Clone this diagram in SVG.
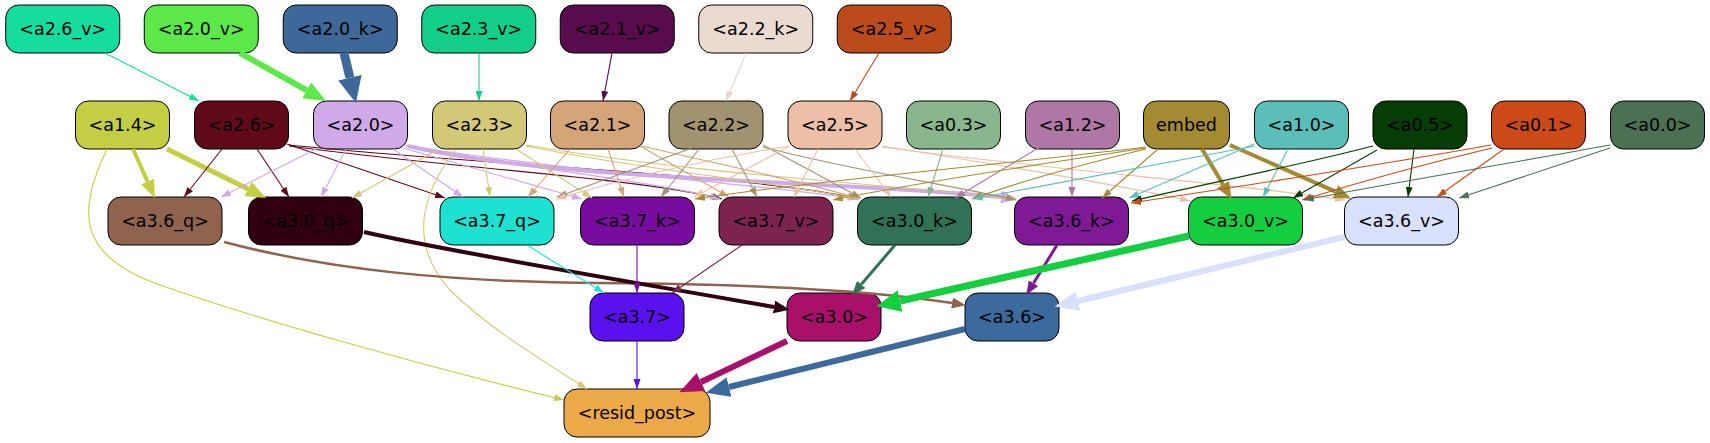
<svg xmlns="http://www.w3.org/2000/svg" width="1710" height="443" viewBox="0 0 1710 443">
<style>
.n rect{stroke:#000;stroke-width:1}
.n text{font-family:"DejaVu Sans","Liberation Sans",sans-serif;font-size:17.5px;text-anchor:middle;fill:#000}
#edges path{fill:none;stroke-width:1.1}
</style>
<defs>
<marker id="t1" viewBox="0 0 10 10" refX="10" refY="5" markerWidth="10" markerHeight="7" orient="auto" markerUnits="userSpaceOnUse" preserveAspectRatio="none"><path d="M0,0L10,5L0,10z" fill="#15DDA0"/></marker>
<marker id="t2" viewBox="0 0 10 10" refX="10" refY="5" markerWidth="10" markerHeight="7" orient="auto" markerUnits="userSpaceOnUse" preserveAspectRatio="none"><path d="M0,0L10,5L0,10z" fill="#13CE88"/></marker>
<marker id="t3" viewBox="0 0 10 10" refX="10" refY="5" markerWidth="10" markerHeight="7" orient="auto" markerUnits="userSpaceOnUse" preserveAspectRatio="none"><path d="M0,0L10,5L0,10z" fill="#580C4E"/></marker>
<marker id="t4" viewBox="0 0 10 10" refX="10" refY="5" markerWidth="10" markerHeight="7" orient="auto" markerUnits="userSpaceOnUse" preserveAspectRatio="none"><path d="M0,0L10,5L0,10z" fill="#E8D6CB"/></marker>
<marker id="t5" viewBox="0 0 10 10" refX="10" refY="5" markerWidth="10" markerHeight="7" orient="auto" markerUnits="userSpaceOnUse" preserveAspectRatio="none"><path d="M0,0L10,5L0,10z" fill="#BC4B1B"/></marker>
<marker id="t6" viewBox="0 0 10 10" refX="10" refY="5" markerWidth="10" markerHeight="7" orient="auto" markerUnits="userSpaceOnUse" preserveAspectRatio="none"><path d="M0,0L10,5L0,10z" fill="#C3CE44"/></marker>
<marker id="t7" viewBox="0 0 10 10" refX="10" refY="5" markerWidth="10" markerHeight="7" orient="auto" markerUnits="userSpaceOnUse" preserveAspectRatio="none"><path d="M0,0L10,5L0,10z" fill="#600A19"/></marker>
<marker id="t8" viewBox="0 0 10 10" refX="10" refY="5" markerWidth="10" markerHeight="7" orient="auto" markerUnits="userSpaceOnUse" preserveAspectRatio="none"><path d="M0,0L10,5L0,10z" fill="#D0A9E8"/></marker>
<marker id="t9" viewBox="0 0 10 10" refX="10" refY="5" markerWidth="10" markerHeight="7" orient="auto" markerUnits="userSpaceOnUse" preserveAspectRatio="none"><path d="M0,0L10,5L0,10z" fill="#D3C878"/></marker>
<marker id="t10" viewBox="0 0 10 10" refX="10" refY="5" markerWidth="10" markerHeight="7" orient="auto" markerUnits="userSpaceOnUse" preserveAspectRatio="none"><path d="M0,0L10,5L0,10z" fill="#D3A578"/></marker>
<marker id="t11" viewBox="0 0 10 10" refX="10" refY="5" markerWidth="10" markerHeight="7" orient="auto" markerUnits="userSpaceOnUse" preserveAspectRatio="none"><path d="M0,0L10,5L0,10z" fill="#A29370"/></marker>
<marker id="t12" viewBox="0 0 10 10" refX="10" refY="5" markerWidth="10" markerHeight="7" orient="auto" markerUnits="userSpaceOnUse" preserveAspectRatio="none"><path d="M0,0L10,5L0,10z" fill="#EDBFA7"/></marker>
<marker id="t13" viewBox="0 0 10 10" refX="10" refY="5" markerWidth="10" markerHeight="7" orient="auto" markerUnits="userSpaceOnUse" preserveAspectRatio="none"><path d="M0,0L10,5L0,10z" fill="#8AB68E"/></marker>
<marker id="t14" viewBox="0 0 10 10" refX="10" refY="5" markerWidth="10" markerHeight="7" orient="auto" markerUnits="userSpaceOnUse" preserveAspectRatio="none"><path d="M0,0L10,5L0,10z" fill="#AE77A4"/></marker>
<marker id="t15" viewBox="0 0 10 10" refX="10" refY="5" markerWidth="10" markerHeight="7" orient="auto" markerUnits="userSpaceOnUse" preserveAspectRatio="none"><path d="M0,0L10,5L0,10z" fill="#A38A33"/></marker>
<marker id="t16" viewBox="0 0 10 10" refX="10" refY="5" markerWidth="10" markerHeight="7" orient="auto" markerUnits="userSpaceOnUse" preserveAspectRatio="none"><path d="M0,0L10,5L0,10z" fill="#5BBEB9"/></marker>
<marker id="t17" viewBox="0 0 10 10" refX="10" refY="5" markerWidth="10" markerHeight="7" orient="auto" markerUnits="userSpaceOnUse" preserveAspectRatio="none"><path d="M0,0L10,5L0,10z" fill="#063D05"/></marker>
<marker id="t18" viewBox="0 0 10 10" refX="10" refY="5" markerWidth="10" markerHeight="7" orient="auto" markerUnits="userSpaceOnUse" preserveAspectRatio="none"><path d="M0,0L10,5L0,10z" fill="#CB4A17"/></marker>
<marker id="t19" viewBox="0 0 10 10" refX="10" refY="5" markerWidth="10" markerHeight="7" orient="auto" markerUnits="userSpaceOnUse" preserveAspectRatio="none"><path d="M0,0L10,5L0,10z" fill="#4B7054"/></marker>
<marker id="t20" viewBox="0 0 10 10" refX="10" refY="5" markerWidth="10" markerHeight="7" orient="auto" markerUnits="userSpaceOnUse" preserveAspectRatio="none"><path d="M0,0L10,5L0,10z" fill="#1DE2D1"/></marker>
<marker id="t21" viewBox="0 0 10 10" refX="10" refY="5" markerWidth="10" markerHeight="7" orient="auto" markerUnits="userSpaceOnUse" preserveAspectRatio="none"><path d="M0,0L10,5L0,10z" fill="#770C9E"/></marker>
<marker id="t22" viewBox="0 0 10 10" refX="10" refY="5" markerWidth="10" markerHeight="7" orient="auto" markerUnits="userSpaceOnUse" preserveAspectRatio="none"><path d="M0,0L10,5L0,10z" fill="#7D234F"/></marker>
<marker id="t23" viewBox="0 0 10 10" refX="10" refY="5" markerWidth="10" markerHeight="7" orient="auto" markerUnits="userSpaceOnUse" preserveAspectRatio="none"><path d="M0,0L10,5L0,10z" fill="#5B10EE"/></marker>
<marker id="k1" viewBox="0 0 10 10" refX="0" refY="5" markerWidth="22" markerHeight="18" orient="auto" markerUnits="userSpaceOnUse" preserveAspectRatio="none"><path d="M0,0L10,5L0,10z" fill="#5DE84A"/></marker>
<marker id="k2" viewBox="0 0 10 10" refX="0" refY="5" markerWidth="26" markerHeight="24" orient="auto" markerUnits="userSpaceOnUse" preserveAspectRatio="none"><path d="M0,0L10,5L0,10z" fill="#3D6898"/></marker>
<marker id="k3" viewBox="0 0 10 10" refX="0" refY="5" markerWidth="18" markerHeight="14" orient="auto" markerUnits="userSpaceOnUse" preserveAspectRatio="none"><path d="M0,0L10,5L0,10z" fill="#C3CE44"/></marker>
<marker id="k4" viewBox="0 0 10 10" refX="0" refY="5" markerWidth="20" markerHeight="16" orient="auto" markerUnits="userSpaceOnUse" preserveAspectRatio="none"><path d="M0,0L10,5L0,10z" fill="#C3CE44"/></marker>
<marker id="k5" viewBox="0 0 10 10" refX="0" refY="5" markerWidth="16" markerHeight="13" orient="auto" markerUnits="userSpaceOnUse" preserveAspectRatio="none"><path d="M0,0L10,5L0,10z" fill="#D0A9E8"/></marker>
<marker id="k6" viewBox="0 0 10 10" refX="0" refY="5" markerWidth="17" markerHeight="14" orient="auto" markerUnits="userSpaceOnUse" preserveAspectRatio="none"><path d="M0,0L10,5L0,10z" fill="#A38A33"/></marker>
<marker id="k7" viewBox="0 0 10 10" refX="0" refY="5" markerWidth="14" markerHeight="11" orient="auto" markerUnits="userSpaceOnUse" preserveAspectRatio="none"><path d="M0,0L10,5L0,10z" fill="#8F634E"/></marker>
<marker id="k8" viewBox="0 0 10 10" refX="0" refY="5" markerWidth="16" markerHeight="13" orient="auto" markerUnits="userSpaceOnUse" preserveAspectRatio="none"><path d="M0,0L10,5L0,10z" fill="#300010"/></marker>
<marker id="k9" viewBox="0 0 10 10" refX="0" refY="5" markerWidth="14" markerHeight="11" orient="auto" markerUnits="userSpaceOnUse" preserveAspectRatio="none"><path d="M0,0L10,5L0,10z" fill="#317156"/></marker>
<marker id="k10" viewBox="0 0 10 10" refX="0" refY="5" markerWidth="14" markerHeight="11" orient="auto" markerUnits="userSpaceOnUse" preserveAspectRatio="none"><path d="M0,0L10,5L0,10z" fill="#7E1A95"/></marker>
<marker id="k11" viewBox="0 0 10 10" refX="0" refY="5" markerWidth="24" markerHeight="22" orient="auto" markerUnits="userSpaceOnUse" preserveAspectRatio="none"><path d="M0,0L10,5L0,10z" fill="#14CE40"/></marker>
<marker id="k12" viewBox="0 0 10 10" refX="0" refY="5" markerWidth="24" markerHeight="20" orient="auto" markerUnits="userSpaceOnUse" preserveAspectRatio="none"><path d="M0,0L10,5L0,10z" fill="#D8E0FC"/></marker>
<marker id="k13" viewBox="0 0 10 10" refX="0" refY="5" markerWidth="24" markerHeight="20" orient="auto" markerUnits="userSpaceOnUse" preserveAspectRatio="none"><path d="M0,0L10,5L0,10z" fill="#A8106A"/></marker>
<marker id="k14" viewBox="0 0 10 10" refX="0" refY="5" markerWidth="24" markerHeight="20" orient="auto" markerUnits="userSpaceOnUse" preserveAspectRatio="none"><path d="M0,0L10,5L0,10z" fill="#3D6A9D"/></marker>
</defs>
<rect width="1710" height="443" fill="#fff"/>
<g id="nodes">
<g id="n-a2_6_v" class="n"><rect x="5.75" y="5" width="114" height="48" rx="13" fill="#15DDA0"/><text x="62.75" y="35">&lt;a2.6_v&gt;</text></g>
<g id="n-a2_0_v" class="n"><rect x="144.25" y="5" width="114" height="48" rx="13" fill="#5DE84A"/><text x="201.25" y="35">&lt;a2.0_v&gt;</text></g>
<g id="n-a2_0_k" class="n"><rect x="283.25" y="5" width="114" height="48" rx="13" fill="#3D6898"/><text x="340.25" y="35">&lt;a2.0_k&gt;</text></g>
<g id="n-a2_3_v" class="n"><rect x="421.75" y="5" width="114" height="48" rx="13" fill="#13CE88"/><text x="478.75" y="35">&lt;a2.3_v&gt;</text></g>
<g id="n-a2_1_v" class="n"><rect x="560.25" y="5" width="114" height="48" rx="13" fill="#580C4E"/><text x="617.25" y="35">&lt;a2.1_v&gt;</text></g>
<g id="n-a2_2_k" class="n"><rect x="698.75" y="5" width="114" height="48" rx="13" fill="#EBDAD0"/><text x="755.75" y="35">&lt;a2.2_k&gt;</text></g>
<g id="n-a2_5_v" class="n"><rect x="837.25" y="5" width="114" height="48" rx="13" fill="#BC4B1B"/><text x="894.25" y="35">&lt;a2.5_v&gt;</text></g>
<g id="n-a1_4" class="n"><rect x="75.5" y="101" width="94" height="48" rx="13" fill="#C3CE44"/><text x="122.5" y="131">&lt;a1.4&gt;</text></g>
<g id="n-a2_6" class="n"><rect x="194.5" y="101" width="94" height="48" rx="13" fill="#600A19"/><text x="241.5" y="131">&lt;a2.6&gt;</text></g>
<g id="n-a2_0" class="n"><rect x="313.5" y="101" width="94" height="48" rx="13" fill="#D0A9E8"/><text x="360.5" y="131">&lt;a2.0&gt;</text></g>
<g id="n-a2_3" class="n"><rect x="432.5" y="101" width="94" height="48" rx="13" fill="#D3C878"/><text x="479.5" y="131">&lt;a2.3&gt;</text></g>
<g id="n-a2_1" class="n"><rect x="550.5" y="101" width="94" height="48" rx="13" fill="#D3A578"/><text x="597.5" y="131">&lt;a2.1&gt;</text></g>
<g id="n-a2_2" class="n"><rect x="669" y="101" width="94" height="48" rx="13" fill="#A29370"/><text x="716" y="131">&lt;a2.2&gt;</text></g>
<g id="n-a2_5" class="n"><rect x="788" y="101" width="94" height="48" rx="13" fill="#EDBFA7"/><text x="835" y="131">&lt;a2.5&gt;</text></g>
<g id="n-a0_3" class="n"><rect x="906.5" y="101" width="94" height="48" rx="13" fill="#8AB68E"/><text x="953.5" y="131">&lt;a0.3&gt;</text></g>
<g id="n-a1_2" class="n"><rect x="1025.5" y="101" width="94" height="48" rx="13" fill="#AE77A4"/><text x="1072.5" y="131">&lt;a1.2&gt;</text></g>
<g id="n-embed" class="n"><rect x="1143.5" y="101" width="86" height="48" rx="13" fill="#A38A33"/><text x="1186.5" y="131">embed</text></g>
<g id="n-a1_0" class="n"><rect x="1254.5" y="101" width="94" height="48" rx="13" fill="#5BBEB9"/><text x="1301.5" y="131">&lt;a1.0&gt;</text></g>
<g id="n-a0_5" class="n"><rect x="1373" y="101" width="94" height="48" rx="13" fill="#063D05"/><text x="1420" y="131">&lt;a0.5&gt;</text></g>
<g id="n-a0_1" class="n"><rect x="1491.5" y="101" width="94" height="48" rx="13" fill="#CB4A17"/><text x="1538.5" y="131">&lt;a0.1&gt;</text></g>
<g id="n-a0_0" class="n"><rect x="1610.5" y="101" width="94" height="48" rx="13" fill="#4B7054"/><text x="1657.5" y="131">&lt;a0.0&gt;</text></g>
<g id="n-a3_6_q" class="n"><rect x="108" y="197" width="114" height="48" rx="13" fill="#8F634E"/><text x="165" y="227">&lt;a3.6_q&gt;</text></g>
<g id="n-a3_0_q" class="n"><rect x="248.5" y="197" width="114" height="48" rx="13" fill="#300010"/><text x="305.5" y="227">&lt;a3.0_q&gt;</text></g>
<g id="n-a3_7_q" class="n"><rect x="440" y="197" width="114" height="48" rx="13" fill="#1DE2D1"/><text x="497" y="227">&lt;a3.7_q&gt;</text></g>
<g id="n-a3_7_k" class="n"><rect x="580.5" y="197" width="114" height="48" rx="13" fill="#770C9E"/><text x="637.5" y="227">&lt;a3.7_k&gt;</text></g>
<g id="n-a3_7_v" class="n"><rect x="719" y="197" width="114" height="48" rx="13" fill="#7D234F"/><text x="776" y="227">&lt;a3.7_v&gt;</text></g>
<g id="n-a3_0_k" class="n"><rect x="857.5" y="197" width="114" height="48" rx="13" fill="#317156"/><text x="914.5" y="227">&lt;a3.0_k&gt;</text></g>
<g id="n-a3_6_k" class="n"><rect x="1014.5" y="197" width="114" height="48" rx="13" fill="#7E1A95"/><text x="1071.5" y="227">&lt;a3.6_k&gt;</text></g>
<g id="n-a3_0_v" class="n"><rect x="1188.5" y="197" width="114" height="48" rx="13" fill="#14CE40"/><text x="1245.5" y="227">&lt;a3.0_v&gt;</text></g>
<g id="n-a3_6_v" class="n"><rect x="1344.5" y="197" width="114" height="48" rx="13" fill="#D8E0FC"/><text x="1401.5" y="227">&lt;a3.6_v&gt;</text></g>
<g id="n-a3_7" class="n"><rect x="590" y="293" width="94" height="48" rx="13" fill="#5B10EE"/><text x="637" y="323">&lt;a3.7&gt;</text></g>
<g id="n-a3_0" class="n"><rect x="787" y="293" width="94" height="48" rx="13" fill="#A8106A"/><text x="834" y="323">&lt;a3.0&gt;</text></g>
<g id="n-a3_6" class="n"><rect x="965" y="293" width="94" height="48" rx="13" fill="#3D6A9D"/><text x="1012" y="323">&lt;a3.6&gt;</text></g>
<g id="n-resid_post" class="n"><rect x="564" y="389" width="146" height="48" rx="13" fill="#EBAA47"/><text x="637" y="419">&lt;resid_post&gt;</text></g>
</g>
<g id="edges">
<path d="M105,53L199,101" stroke="#15DDA0" marker-end="url(#t1)"/>
<path d="M240,53L306.8,90.3" stroke="#5DE84A" style="stroke-width:6" marker-end="url(#k1)"/>
<path d="M344,53L349.9,77.7" stroke="#3D6898" style="stroke-width:9" marker-end="url(#k2)"/>
<path d="M479,53L479,101" stroke="#13CE88" marker-end="url(#t2)"/>
<path d="M612,53L603,101" stroke="#580C4E" marker-end="url(#t3)"/>
<path d="M746,53L726,101" stroke="#E8D6CB" marker-end="url(#t4)"/>
<path d="M879,53L850,101" stroke="#BC4B1B" marker-end="url(#t5)"/>
<path d="M133,149L147.6,181.6" stroke="#C3CE44" style="stroke-width:4" marker-end="url(#k3)"/>
<path d="M167,149L248.1,189.1" stroke="#C3CE44" style="stroke-width:5" marker-end="url(#k4)"/>
<path d="M107,149C78,210 75,255 160,285C260,320 420,365 564,400" stroke="#C3CE44" marker-end="url(#t6)"/>
<path d="M222,149L184,197" stroke="#600A19" marker-end="url(#t7)"/>
<path d="M257,149L289,197" stroke="#600A19" marker-end="url(#t7)"/>
<path d="M287,144L445,198" stroke="#600A19" marker-end="url(#t7)"/>
<path d="M289,146C450,168 640,178 722,199" stroke="#600A19" marker-end="url(#t7)"/>
<path d="M289,145C480,165 760,175 858,199" stroke="#600A19" marker-end="url(#t7)"/>
<path d="M318,148L221,197" stroke="#D0A9E8" marker-end="url(#t8)"/>
<path d="M346,149L321,197" stroke="#D0A9E8" marker-end="url(#t8)"/>
<path d="M393,149L463,197" stroke="#D0A9E8" marker-end="url(#t8)"/>
<path d="M403,148L582,199" stroke="#D0A9E8" marker-end="url(#t8)"/>
<path d="M405,146C500,165 650,180 720,199" stroke="#D0A9E8" marker-end="url(#t8)"/>
<path d="M406,145C550,170 770,185 858,199" stroke="#D0A9E8" marker-end="url(#t8)"/>
<path d="M408,146C520,172 700,178 820,185C920,190 970,194 1001,197" stroke="#D0A9E8" style="stroke-width:4" marker-end="url(#k5)"/>
<path d="M437,150L352,198" stroke="#D3C878" marker-end="url(#t9)"/>
<path d="M483,149L490,197" stroke="#D3C878" marker-end="url(#t9)"/>
<path d="M516,149L592,198" stroke="#D3C878" marker-end="url(#t9)"/>
<path d="M455,150C425,190 405,240 450,290C490,330 550,365 587,389" stroke="#D3C878" marker-end="url(#t9)"/>
<path d="M526,146C640,170 800,185 857,199" stroke="#D3C878" marker-end="url(#t9)"/>
<path d="M526,145C700,175 900,185 1016,199" stroke="#D3C878" marker-end="url(#t9)"/>
<path d="M570,149L528,197" stroke="#D3A578" marker-end="url(#t10)"/>
<path d="M608,149L624,197" stroke="#D3A578" marker-end="url(#t10)"/>
<path d="M640,146L729,197" stroke="#D3A578" marker-end="url(#t10)"/>
<path d="M642,146C720,165 800,180 860,199" stroke="#D3A578" marker-end="url(#t10)"/>
<path d="M692,148L557,197" stroke="#A29370" marker-end="url(#t11)"/>
<path d="M699,149L661,197" stroke="#A29370" marker-end="url(#t11)"/>
<path d="M732,149L757,197" stroke="#A29370" marker-end="url(#t11)"/>
<path d="M763,145L861,198" stroke="#A29370" marker-end="url(#t11)"/>
<path d="M763,147C850,170 950,185 1016,200" stroke="#A29370" marker-end="url(#t11)"/>
<path d="M790,146C700,160 620,180 556,199" stroke="#EDBFA7" marker-end="url(#t12)"/>
<path d="M788,147L694,197" stroke="#EDBFA7" marker-end="url(#t12)"/>
<path d="M818,149L794,197" stroke="#EDBFA7" marker-end="url(#t12)"/>
<path d="M855,149L891,197" stroke="#EDBFA7" marker-end="url(#t12)"/>
<path d="M882,146C1000,165 1120,185 1190,201" stroke="#EDBFA7" marker-end="url(#t12)"/>
<path d="M882,147C1050,170 1250,185 1345,200" stroke="#EDBFA7" marker-end="url(#t12)"/>
<path d="M943,149L928,197" stroke="#8AB68E" marker-end="url(#t13)"/>
<path d="M1040,147L955,198" stroke="#AE77A4" marker-end="url(#t14)"/>
<path d="M1072,149L1072,197" stroke="#AE77A4" marker-end="url(#t14)"/>
<path d="M1146,147C1000,165 800,182 695,199" stroke="#A38A33" marker-end="url(#t15)"/>
<path d="M1146,148C1020,167 900,186 833,200" stroke="#A38A33" marker-end="url(#t15)"/>
<path d="M1146,149C1080,165 1010,185 972,199" stroke="#A38A33" marker-end="url(#t15)"/>
<path d="M1158,149L1102,198" stroke="#A38A33" marker-end="url(#t15)"/>
<path d="M1202,149L1223,184.5" stroke="#A38A33" style="stroke-width:4" marker-end="url(#k6)"/>
<path d="M1230,145L1335.5,191.7" stroke="#A38A33" style="stroke-width:4" marker-end="url(#k6)"/>
<path d="M1255,146C1150,166 1040,186 973,199" stroke="#5BBEB9" marker-end="url(#t16)"/>
<path d="M1254,144L1129,198" stroke="#5BBEB9" marker-end="url(#t16)"/>
<path d="M1288,149L1263,197" stroke="#5BBEB9" marker-end="url(#t16)"/>
<path d="M1373,146C1300,165 1200,185 1132,201" stroke="#063D05" marker-end="url(#t17)"/>
<path d="M1377,150L1293,198" stroke="#063D05" marker-end="url(#t17)"/>
<path d="M1414,149L1408,197" stroke="#063D05" marker-end="url(#t17)"/>
<path d="M1491,145C1380,165 1250,185 1131,203" stroke="#CB4A17" marker-end="url(#t18)"/>
<path d="M1492,148C1420,165 1350,185 1302,200" stroke="#CB4A17" marker-end="url(#t18)"/>
<path d="M1504,149L1437,197" stroke="#CB4A17" marker-end="url(#t18)"/>
<path d="M1610,145C1500,165 1380,185 1304,200" stroke="#4B7054" marker-end="url(#t19)"/>
<path d="M1610,148L1459,198" stroke="#4B7054" marker-end="url(#t19)"/>
<path d="M224,242C330,270 450,282 600,283C750,284 870,290 952,303" stroke="#8F634E" style="stroke-width:2.5" marker-end="url(#k7)"/>
<path d="M364,232C450,252 650,285 774,307" stroke="#300010" style="stroke-width:4" marker-end="url(#k8)"/>
<path d="M527,245L604,293" stroke="#1DE2D1" marker-end="url(#t20)"/>
<path d="M637,245L637,293" stroke="#770C9E" marker-end="url(#t21)"/>
<path d="M742,245L672,293" stroke="#7D234F" marker-end="url(#t22)"/>
<path d="M895,245L861.2,284.5" stroke="#317156" style="stroke-width:3" marker-end="url(#k9)"/>
<path d="M1057,245L1033.5,283.2" stroke="#7E1A95" style="stroke-width:3" marker-end="url(#k10)"/>
<path d="M1189,236L900,301" stroke="#14CE40" style="stroke-width:7" marker-end="url(#k11)"/>
<path d="M1344,237L1078,301" stroke="#D8E0FC" style="stroke-width:6" marker-end="url(#k12)"/>
<path d="M637,341L637,389" stroke="#5B10EE" marker-end="url(#t23)"/>
<path d="M787,341L701,382" stroke="#A8106A" style="stroke-width:6" marker-end="url(#k13)"/>
<path d="M965,329L729,387" stroke="#3D6A9D" style="stroke-width:6" marker-end="url(#k14)"/>
</g>
</svg>
